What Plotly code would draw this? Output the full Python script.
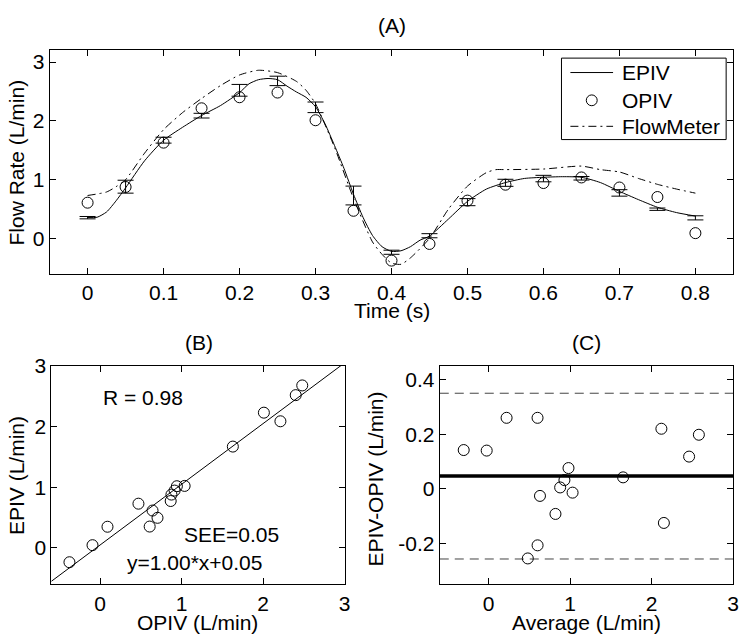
import numpy as np
import plotly.graph_objects as go

W, H = 751, 641
FONT = "Liberation Sans, Arial, Helvetica, sans-serif"
FS = 21

# ---------------- data ----------------
# sample times (s)
t_pts = [0.0, 0.05, 0.1, 0.15, 0.2, 0.25, 0.3, 0.35, 0.4, 0.45, 0.5, 0.55, 0.6, 0.65, 0.7, 0.75, 0.8]
# EPIV mean at sample times (L/min)
epiv_pts = [0.353, 0.880, 1.671, 2.088, 2.519, 2.679, 2.230, 0.730, -0.235, 0.046, 0.617, 0.946, 1.018, 1.023, 0.774, 0.497, 0.350]
# EPIV error (L/min)
epiv_err = [0.02, 0.11, 0.05, 0.04, 0.10, 0.08, 0.09, 0.16, 0.035, 0.035, 0.06, 0.06, 0.055, 0.03, 0.055, 0.02, 0.035]
# OPIV at sample times (L/min)
opiv_pts = [0.608, 0.875, 1.629, 2.213, 2.401, 2.481, 2.010, 0.470, -0.377, -0.094, 0.643, 0.914, 0.942, 1.037, 0.866, 0.704, 0.090]

# EPIV continuous curve
t_epiv = [0.0, 0.0125, 0.025, 0.0375, 0.05, 0.075, 0.1, 0.125, 0.15, 0.175, 0.2, 0.2125, 0.225, 0.2375,
          0.25, 0.2625, 0.275, 0.2875, 0.3, 0.3125, 0.325, 0.3375, 0.35, 0.3625, 0.375, 0.3875, 0.4,
          0.4125, 0.425, 0.4375, 0.45, 0.475, 0.5, 0.525, 0.55, 0.575, 0.6, 0.625, 0.65, 0.675, 0.7,
          0.725, 0.75, 0.775, 0.8]
v_epiv = [0.355, 0.36, 0.45, 0.64, 0.86, 1.32, 1.67, 1.89, 2.09, 2.26, 2.48, 2.63, 2.70, 2.72,
          2.70, 2.59, 2.49, 2.40, 2.24, 1.95, 1.58, 1.19, 0.75, 0.36, 0.05, -0.14, -0.22,
          -0.21, -0.14, -0.03, 0.04, 0.33, 0.63, 0.84, 0.95, 1.02, 1.04, 1.05, 1.04, 0.95, 0.80,
          0.66, 0.53, 0.44, 0.38]

# FlowMeter curve
t_flow = [0.0, 0.025, 0.0375, 0.05, 0.075, 0.1, 0.125, 0.15, 0.175, 0.2, 0.225, 0.25, 0.275, 0.2875,
          0.3, 0.325, 0.35, 0.375, 0.3875, 0.4, 0.4125, 0.425, 0.45, 0.475, 0.5, 0.525, 0.5375, 0.55,
          0.6, 0.65, 0.675, 0.7, 0.725, 0.75, 0.775, 0.8]
v_flow = [0.73, 0.79, 0.88, 1.00, 1.45, 1.85, 2.14, 2.38, 2.60, 2.78, 2.86, 2.82, 2.67, 2.52,
          2.29, 1.55, 0.68, -0.06, -0.27, -0.42, -0.44, -0.33, 0.00, 0.50, 0.89, 1.12, 1.17, 1.17,
          1.18, 1.23, 1.17, 1.13, 1.02, 0.92, 0.84, 0.77]

# regression (panel B)
fit_slope, fit_intercept = 1.00, 0.05
# Bland-Altman lines (panel C)
ba_mean, ba_upper, ba_lower = 0.047, 0.35, -0.257

legend_names = ["EPIV", "OPIV", "FlowMeter"]
ticks_a_x = [0, 0.1, 0.2, 0.3, 0.4, 0.5, 0.6, 0.7, 0.8]
ticks_a_x_text = ["0", "0.1", "0.2", "0.3", "0.4", "0.5", "0.6", "0.7", "0.8"]
ticks_int = [0, 1, 2, 3]
ticks_c_y = [-0.2, 0, 0.2, 0.4]
ticks_c_y_text = ["-0.2", "0", "0.2", "0.4"]

# ---------------- helpers ----------------
def px(x):
    return x / W

def py(y):
    return 1 - y / H

opiv = np.array(opiv_pts)
epiv = np.array(epiv_pts)
avg = (opiv + epiv) / 2
diff = epiv - opiv

DASHDOT = "8px,4px,2px,4px"

fig = go.Figure()

# Panel A
fig.add_trace(go.Scatter(x=t_epiv, y=v_epiv, mode="lines", name=legend_names[0],
                         line=dict(color="black", width=1, shape="spline", smoothing=0.6),
                         xaxis="x", yaxis="y"))
fig.add_trace(go.Scatter(x=t_pts, y=epiv_pts, mode="markers",
                         marker=dict(size=1, color="rgba(0,0,0,0)"),
                         error_y=dict(type="data", array=epiv_err, visible=True, color="black",
                                      thickness=1, width=8),
                         xaxis="x", yaxis="y"))
fig.add_trace(go.Scatter(x=t_pts, y=opiv_pts, mode="markers", name=legend_names[1],
                         marker=dict(symbol="circle-open", size=11, color="black", line=dict(width=1)),
                         xaxis="x", yaxis="y"))
fig.add_trace(go.Scatter(x=t_flow, y=v_flow, mode="lines", name=legend_names[2],
                         line=dict(color="black", width=1, dash=DASHDOT,
                                   shape="spline", smoothing=0.6),
                         xaxis="x", yaxis="y"))

# Panel B
fig.add_trace(go.Scatter(x=opiv, y=epiv, mode="markers",
                         marker=dict(symbol="circle-open", size=11, color="black", line=dict(width=1)),
                         xaxis="x2", yaxis="y2"))
fx = np.array([-0.6, 3.0])
fig.add_trace(go.Scatter(x=fx, y=fit_slope * fx + fit_intercept, mode="lines",
                         line=dict(color="black", width=1), xaxis="x2", yaxis="y2"))

# Panel C
fig.add_trace(go.Scatter(x=[-0.6, 3.0], y=[ba_upper, ba_upper], mode="lines",
                         line=dict(color="#444", width=1, dash="9px,6px"), xaxis="x3", yaxis="y3"))
fig.add_trace(go.Scatter(x=[-0.6, 3.0], y=[ba_lower, ba_lower], mode="lines",
                         line=dict(color="#444", width=1, dash="9px,6px"), xaxis="x3", yaxis="y3"))
fig.add_trace(go.Scatter(x=[-0.6, 3.0], y=[ba_mean, ba_mean], mode="lines",
                         line=dict(color="black", width=3.5), xaxis="x3", yaxis="y3"))
fig.add_trace(go.Scatter(x=avg, y=diff, mode="markers",
                         marker=dict(symbol="circle-open", size=11, color="black", line=dict(width=1)),
                         xaxis="x3", yaxis="y3"))

axis_common = dict(showline=True, linecolor="black", linewidth=1, mirror="ticks",
                   ticks="inside", ticklen=6, tickcolor="black", tickwidth=1,
                   showgrid=False, zeroline=False,
                   tickfont=dict(family=FONT, size=FS, color="black"))

fig.update_layout(
    width=W, height=H,
    margin=dict(l=0, r=0, t=0, b=0),
    paper_bgcolor="white", plot_bgcolor="white",
    font=dict(family=FONT, size=FS, color="black"),
    showlegend=False,
    xaxis=dict(domain=[px(50), px(739.3)], range=[-0.05, 0.85], tickvals=ticks_a_x,
               ticktext=ticks_a_x_text, anchor="y", **axis_common),
    yaxis=dict(domain=[py(266.7), py(39)], range=[-0.6, 3.2], tickvals=ticks_int,
               anchor="x", **axis_common),
    xaxis2=dict(domain=[px(51.7), px(347.3)], range=[-0.6, 3], tickvals=ticks_int,
                anchor="y2", **axis_common),
    yaxis2=dict(domain=[py(583.3), py(360.7)], range=[-0.6, 3], tickvals=ticks_int,
                anchor="x2", **axis_common),
    xaxis3=dict(domain=[px(443.3), px(739)], range=[-0.6, 3], tickvals=ticks_int,
                anchor="y3", **axis_common),
    yaxis3=dict(domain=[py(583.3), py(360.7)], range=[-0.35, 0.45], tickvals=ticks_c_y,
                ticktext=ticks_c_y_text, anchor="x3", **axis_common),
)

def label(text, x, y, angle=0, xanchor="center"):
    fig.add_annotation(text=text, x=px(x), y=py(y), xref="paper", yref="paper",
                       showarrow=False, xanchor=xanchor, yanchor="middle", textangle=angle,
                       font=dict(family=FONT, size=FS, color="black"))

label("(A)", 395, 14)
label("(B)", 201, 337)
label("(C)", 591, 337)
label("Time (s)", 395, 304)
label("OPIV (L/min)", 199, 622)
label("Average (L/min)", 591.5, 622)
label("Flow Rate (L/min)", 16.5, 153, -90)
label("EPIV (L/min)", 16, 472, -90)
label("EPIV-OPIV (L/min)", 378.5, 476, -90)

def btext(text, x, y):
    fig.add_annotation(text=text, x=x, y=y, xref="x2", yref="y2", showarrow=False,
                       xanchor="left", yanchor="middle",
                       font=dict(family=FONT, size=FS, color="black"))

btext("R = 0.98", 0.01, 2.48)
btext("SEE=0.05", 1.01, 0.23)
btext("y=1.00*x+0.05", 0.30, -0.24)

# ---- legend (drawn manually to match MATLAB legend box) ----
def pshape(**kw):
    fig.add_shape(xref="paper", yref="paper", **kw)

pshape(type="rect", x0=px(566), x1=px(732), y0=py(130), y1=py(47),
       line=dict(color="black", width=1), fillcolor="white", layer="above")
leg_rows = [61.7, 90, 116.5]
pshape(type="line", x0=px(575), x1=px(618), y0=py(leg_rows[0]), y1=py(leg_rows[0]),
       line=dict(color="black", width=1), layer="above")
r = 5.5
pshape(type="circle", x0=px(596.5 - r), x1=px(596.5 + r), y0=py(leg_rows[1] + r), y1=py(leg_rows[1] - r),
       line=dict(color="black", width=1), layer="above")
pshape(type="line", x0=px(575), x1=px(618), y0=py(leg_rows[2]), y1=py(leg_rows[2]),
       line=dict(color="black", width=1, dash=DASHDOT), layer="above")
for name, yy in zip(legend_names, leg_rows):
    label(name, 625, yy, xanchor="left")

fig.write_html("out.html", config={"displayModeBar": False},
               post_script="document.body.style.margin='0';document.body.style.overflow='hidden';")
